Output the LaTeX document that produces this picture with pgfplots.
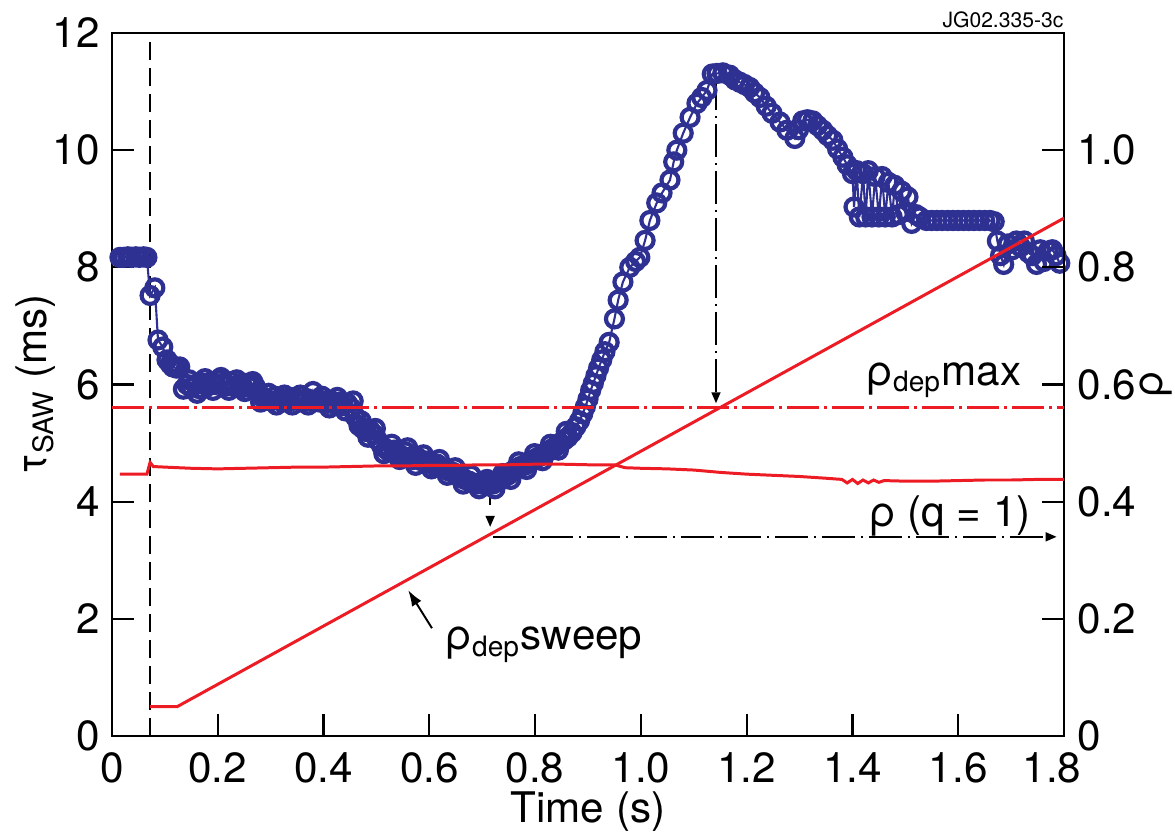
\documentclass[border=0pt]{standalone}
\usepackage{fontspec}
\setmainfont{TeX Gyre Heros}
\usepackage{pgfplots}
\pgfplotsset{compat=1.18}
\usetikzlibrary{arrows.meta}
\definecolor{sawblue}{HTML}{2E3192}
\definecolor{sawred}{HTML}{ED1C24}

\pgfplotstableread{
t tau
0.015 8.17
0.022 8.17
0.030 8.18
0.037 8.17
0.045 8.18
0.052 8.17
0.060 8.18
0.066 8.17
0.072 7.52
0.081 7.65
0.087 6.76
0.096 6.64
0.104 6.42
0.110 6.35
0.115 6.30
0.122 6.28
0.128 6.30
0.135 5.92
0.142 6.00
0.150 5.95
0.158 6.00
0.165 5.93
0.172 6.02
0.180 5.97
0.188 6.05
0.195 6.00
0.203 6.08
0.210 6.02
0.218 5.98
0.225 6.05
0.232 5.97
0.240 6.00
0.248 5.95
0.255 6.02
0.262 5.96
0.270 5.98
0.278 5.85
0.285 5.78
0.292 5.75
0.300 5.72
0.308 5.80
0.315 5.74
0.322 5.70
0.330 5.75
0.337 5.72
0.345 5.78
0.352 5.73
0.360 5.70
0.368 5.76
0.375 5.72
0.380 5.88
0.386 5.74
0.393 5.70
0.400 5.72
0.408 5.68
0.415 5.72
0.422 5.66
0.430 5.70
0.437 5.64
0.445 5.68
0.452 5.60
0.460 5.45
0.467 5.30
0.474 5.25
0.480 5.20
0.488 5.22
0.495 5.15
0.502 5.05
0.510 4.95
0.518 4.90
0.525 4.85
0.533 4.88
0.540 4.82
0.548 4.78
0.555 4.85
0.563 4.76
0.570 4.72
0.578 4.75
0.585 4.70
0.593 4.68
0.600 4.70
0.608 4.62
0.615 4.64
0.623 4.58
0.630 4.55
0.638 4.52
0.645 4.50
0.652 4.45
0.660 4.42
0.667 4.38
0.675 4.35
0.682 4.32
0.690 4.30
0.697 4.31
0.705 4.29
0.712 4.32
0.720 4.30
0.727 4.33
0.735 4.38
0.742 4.42
0.750 4.46
0.757 4.52
0.765 4.56
0.772 4.60
0.780 4.62
0.787 4.66
0.795 4.70
0.802 4.74
0.810 4.78
0.817 4.82
0.825 4.86
0.832 4.90
0.840 4.95
0.847 5.00
0.855 5.05
0.862 5.10
0.870 5.18
0.877 5.28
0.884 5.38
0.890 5.50
0.895 5.62
0.900 5.75
0.905 5.90
0.910 6.02
0.915 6.15
0.920 6.28
0.926 6.42
0.932 6.56
0.940 6.72
0.950 7.12
0.957 7.44
0.966 7.75
0.979 8.00
0.990 8.10
0.998 8.17
1.008 8.46
1.017 8.80
1.030 9.10
1.040 9.27
1.055 9.49
1.062 9.80
1.068 10.00
1.080 10.29
1.093 10.56
1.106 10.80
1.115 10.90
1.125 11.02
1.135 11.30
1.144 11.31
1.155 11.32
1.168 11.28
1.178 11.20
1.187 11.16
1.196 11.12
1.206 11.07
1.215 10.98
1.225 10.90
1.237 10.75
1.248 10.63
1.263 10.48
1.276 10.34
1.291 10.20
1.298 10.35
1.306 10.50
1.315 10.52
1.325 10.50
1.334 10.42
1.344 10.34
1.353 10.25
1.363 10.17
1.372 10.02
1.382 9.88
1.390 9.75
1.400 9.60
1.403 9.03
1.408 9.65
1.413 8.86
1.420 9.60
1.425 8.86
1.430 9.65
1.437 8.86
1.443 9.55
1.450 8.86
1.456 9.55
1.462 8.86
1.468 9.45
1.475 8.86
1.480 9.40
1.487 8.90
1.493 9.30
1.500 8.95
1.505 9.20
1.512 8.75
1.520 8.90
1.527 8.86
1.540 8.80
1.550 8.80
1.560 8.80
1.570 8.80
1.580 8.80
1.590 8.80
1.600 8.80
1.610 8.80
1.620 8.80
1.630 8.80
1.640 8.80
1.650 8.80
1.660 8.80
1.668 8.78
1.674 8.45
1.680 8.20
1.686 8.05
1.694 8.40
1.702 8.30
1.710 8.45
1.718 8.35
1.725 8.45
1.733 8.25
1.740 8.20
1.748 8.05
1.755 8.30
1.762 8.10
1.770 8.28
1.778 8.30
1.785 8.20
1.792 8.07
}\tausaw

% scattered samples that thicken the dense band
\pgfplotstableread{
t tau
0.146 6.08
0.161 5.85
0.176 6.10
0.191 5.90
0.206 6.12
0.221 5.90
0.236 6.08
0.251 5.88
0.266 6.05
0.281 5.70
0.296 5.85
0.311 5.65
0.326 5.82
0.341 5.65
0.356 5.82
0.371 5.65
0.397 5.80
0.411 5.60
0.426 5.78
0.441 5.55
0.456 5.72
0.471 5.38
0.484 5.10
0.498 5.25
0.514 4.82
0.529 4.98
0.544 4.72
0.559 4.92
0.574 4.62
0.589 4.80
0.604 4.56
0.619 4.72
0.634 4.45
0.649 4.58
0.664 4.30
0.679 4.45
0.694 4.22
0.709 4.38
0.724 4.22
0.739 4.48
0.754 4.38
0.769 4.68
0.784 4.55
0.799 4.82
0.814 4.70
0.829 4.98
0.844 4.88
0.859 5.20
}\tauextra

\pgfplotstableread{
t rho
0.015 0.447
0.066 0.447
0.072 0.467
0.078 0.460
0.100 0.459
0.150 0.457
0.200 0.456
0.250 0.457
0.300 0.458
0.350 0.459
0.400 0.459
0.450 0.460
0.500 0.461
0.550 0.461
0.600 0.462
0.650 0.462
0.700 0.463
0.750 0.463
0.800 0.464
0.850 0.464
0.900 0.463
0.950 0.463
0.970 0.458
1.000 0.457
1.050 0.456
1.100 0.454
1.150 0.450
1.200 0.447
1.250 0.445
1.300 0.443
1.350 0.440
1.380 0.438
1.390 0.432
1.400 0.438
1.410 0.431
1.420 0.437
1.430 0.432
1.440 0.437
1.450 0.433
1.460 0.436
1.500 0.435
1.550 0.435
1.600 0.436
1.650 0.437
1.700 0.437
1.750 0.438
1.800 0.438
}\rhoqone

\begin{document}
\begin{tikzpicture}
\pgfplotsset{
  sawbase/.style={
    scale only axis, width=95.2mm, height=70.3mm,
    xmin=0, xmax=1.8,
    tick align=inside, major tick length=2.2mm,
    axis line style={line width=0.6pt},
    tick style={line width=0.6pt, black},
    /pgf/number format/assume math mode=true,
    ticklabel style={font=\fontsize{12}{14}\selectfont},
    label style={font=\fontsize{12}{14}\selectfont},
  },
}
\begin{axis}[sawbase, name=main,
  ymin=0, ymax=12,
  xtick pos=bottom, ytick pos=left,
  xtick={0,0.2,0.4,0.6,0.8,1.0,1.2,1.4,1.6,1.8},
  xticklabels={0,0.2,0.4,0.6,0.8,1.0,1.2,1.4,1.6,{1.8\hspace*{2.4mm}}},
  xticklabel style={inner ysep=0pt, yshift=-4.5pt},
  ytick={0,2,4,6,8,10,12},
  yticklabels={0,2,4,6,8,10,12},
  xlabel={Time (s)},
  xlabel style={at={(axis description cs:0.5,-0.108)}, anchor=center, inner sep=0pt},
  ylabel={τ\textsubscript{SAW} (ms)},
  ylabel style={at={(axis description cs:-0.08,0.5)}, anchor=center},
]
\draw[black, line width=0.5pt, dash pattern=on 1.8mm off 0.8mm]
  (axis cs:0.072,0) -- (axis cs:0.072,12);
\addplot[sawblue, only marks, mark=o, mark size=0.85mm,
  mark options={line width=1.2pt}] table[x=t, y=tau] {\tauextra};
\addplot[sawblue, line width=0.6pt, mark=o, mark size=0.85mm,
  mark options={line width=1.2pt, solid}] table[x=t, y=tau] {\tausaw};
% annotations
\draw[black, line width=0.45pt, dash pattern=on 3.3mm off 0.6mm on 0.2mm off 0.6mm,
  -{Triangle[length=1.1mm, width=0.9mm]}]
  (axis cs:1.142,11.25) -- (axis cs:1.142,5.68);
\draw[black, line width=0.45pt] (axis cs:0.715,4.17) -- (axis cs:0.715,3.94);
\draw[black, line width=0.45pt, -{Triangle[length=1.1mm, width=0.9mm]}]
  (axis cs:0.715,3.75) -- (axis cs:0.715,3.57);
\draw[black, line width=0.45pt, dash pattern=on 3.3mm off 0.6mm on 0.2mm off 0.6mm,
  -{Triangle[length=1.1mm, width=0.9mm]}]
  (axis cs:0.72,3.4) -- (axis cs:1.786,3.4);
\draw[black, line width=0.55pt, -{Latex[length=1.6mm, width=1.1mm]}]
  (axis cs:0.605,1.84) -- (axis cs:0.56,2.49);
\node[anchor=base west, inner sep=0pt, font=\fontsize{12}{14}\selectfont]
  at (axis cs:1.425,5.99) {ρ\textsubscript{dep}max};
\node[anchor=base west, inner sep=0pt, font=\fontsize{12}{14}\selectfont]
  at (axis cs:1.43,3.58) {ρ (q = 1)};
\node[anchor=base west, inner sep=0pt, font=\fontsize{12}{14}\selectfont]
  at (axis cs:0.629,1.47) {ρ\textsubscript{dep}sweep};
\end{axis}

\begin{axis}[sawbase,
  ymin=0, ymax=1.2,
  axis x line=none, axis y line*=right,
  y axis line style={-},
  ytick={0,0.2,0.4,0.6,0.8,1.0},
  yticklabels={0,0.2,0.4,0.6,0.8,1.0},
  yticklabel style={inner ysep=0pt, inner xsep=0pt, xshift=1.3mm},
  ylabel={ρ},
  ylabel style={at={(axis description cs:1.097,0.5)}, anchor=center, inner sep=0pt},
]
\addplot[sawred, line width=0.85pt, dash pattern=on 3.2mm off 0.5mm on 0.3mm off 0.5mm]
  coordinates {(0,0.56) (1.8,0.56)};
\addplot[sawred, line width=0.85pt] table[x=t, y=rho] {\rhoqone};
\addplot[sawred, line width=0.85pt]
  coordinates {(0.072,0.05) (0.123,0.05) (1.8,0.884)};
\end{axis}
\node[anchor=base east, inner sep=0pt, font=\fontsize{6}{7}\selectfont]
  at ([yshift=0.6mm]main.north east) {JG02.335-3c};
% frame the page like the reference figure
\pgfresetboundingbox
\path ([xshift=-11.2mm, yshift=-10.3mm]main.south west)
  rectangle ([xshift=11.1mm, yshift=3.3mm]main.north east);
\end{tikzpicture}
\end{document}
